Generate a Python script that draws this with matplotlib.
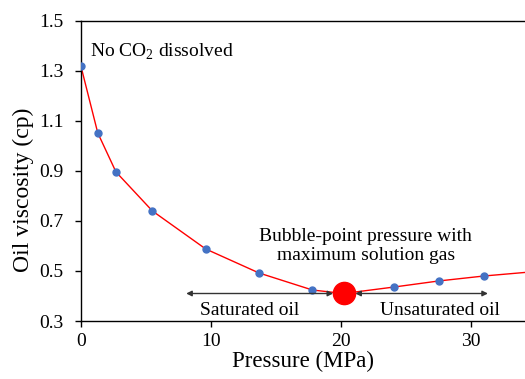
import matplotlib
matplotlib.use("Agg")
import matplotlib.pyplot as plt

plt.rcParams['font.family'] = ['Liberation Serif', 'DejaVu Serif']

# measured points
pressure = [0.0, 1.3, 2.7, 5.5, 9.6, 13.7, 17.8, 24.1, 27.5, 31.0]
viscosity = [1.32, 1.052, 0.896, 0.74, 0.588, 0.492, 0.424, 0.436, 0.46, 0.48]
# red trend line (passes through bubble point, runs off the right edge)
line_p = [0.0, 1.3, 2.7, 5.5, 9.6, 13.7, 17.8, 20.2, 24.1, 27.5, 31.0, 35.0]
line_v = [1.32, 1.052, 0.896, 0.74, 0.588, 0.492, 0.424, 0.41, 0.436, 0.46, 0.48, 0.498]
bubble_p = 20.2
bubble_v = 0.41

fig = plt.figure(figsize=(5.25, 3.79), dpi=100)
ax = fig.add_axes([0.154, 0.153, 0.846, 0.792])

ax.plot(line_p, line_v, color='red', lw=1.0, zorder=2)
ax.plot(pressure, viscosity, 'o', color='#4472C4', ms=5, zorder=3)
ax.plot([bubble_p], [bubble_v], 'o', color='red', ms=16, zorder=4)

# saturated / unsaturated arrows
ax.annotate('', xy=(8.1, 0.41), xytext=(19.4, 0.41),
            arrowprops=dict(arrowstyle='<|-|>', color='#333333', lw=1.0,
                            mutation_scale=8, shrinkA=0, shrinkB=0))
ax.annotate('', xy=(21.1, 0.41), xytext=(31.3, 0.41),
            arrowprops=dict(arrowstyle='<|-|>', color='#333333', lw=1.0,
                            mutation_scale=8, shrinkA=0, shrinkB=0))

ax.text(13.0, 0.343, 'Saturated oil', ha='center', va='center', fontsize=14)
ax.text(27.6, 0.343, 'Unsaturated oil', ha='center', va='center', fontsize=14)
ax.text(21.9, 0.6, 'Bubble-point pressure with\nmaximum solution gas',
        ha='center', va='center', fontsize=14, linespacing=1.1)
ax.text(0.7, 1.378, r'No CO$_{\mathregular{2}}$ dissolved', ha='left', va='center',
        fontsize=14)

ax.set_xlim(0, 34.15)
ax.set_ylim(0.3, 1.5)
ax.set_xticks([0, 10, 20, 30])
ax.set_yticks([0.3, 0.5, 0.7, 0.9, 1.1, 1.3, 1.5])
ax.set_yticklabels(['0.3', '0.5', '0.7', '0.9', '1.1', '1.3', '1.5'])
ax.tick_params(labelsize=14, direction='out', length=4.5, width=1)
ax.tick_params(axis='y', pad=8)
ax.tick_params(axis='x', pad=4)
ax.spines['right'].set_visible(False)
for s in ['left', 'bottom', 'top']:
    ax.spines[s].set_linewidth(1.0)

ax.set_xlabel('Pressure (MPa)', fontsize=16.5, labelpad=1)
ax.set_ylabel('Oil viscosity (cp)', fontsize=17)
ax.yaxis.set_label_coords(-0.105, 0.437)

fig.savefig('out.png', dpi=100)
